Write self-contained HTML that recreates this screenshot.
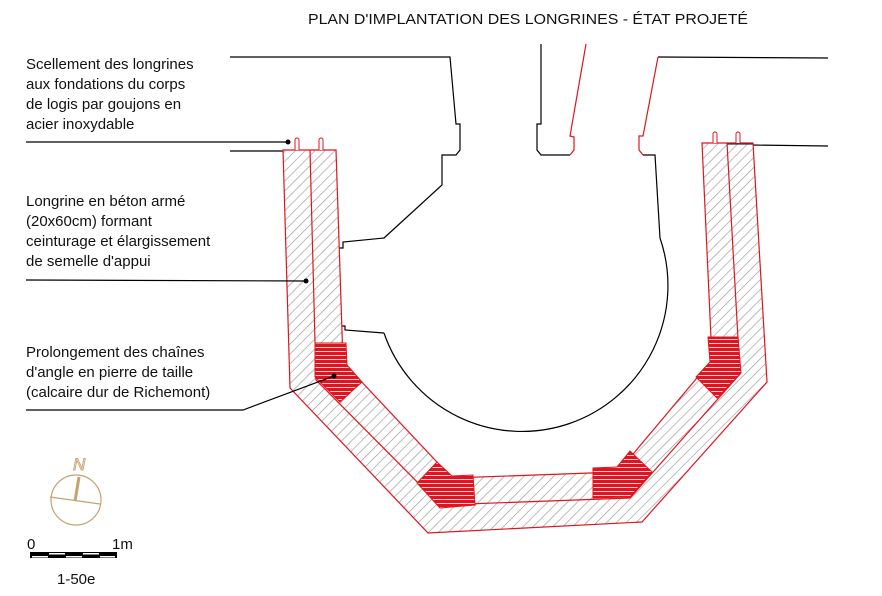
<!DOCTYPE html>
<html><head><meta charset="utf-8"><style>
html,body{margin:0;padding:0;background:#fff;width:882px;height:596px;overflow:hidden}
svg{display:block}
text{font-family:"Liberation Sans",sans-serif;fill:#111}
</style></head><body>
<svg width="882" height="596" viewBox="0 0 882 596" xmlns="http://www.w3.org/2000/svg">
<defs>
<pattern id="h" patternUnits="userSpaceOnUse" width="7" height="7" patternTransform="rotate(45)">
<rect width="7" height="7" fill="#fff"/><line x1="0" y1="0" x2="0" y2="7" stroke="#999" stroke-width="1.3"/>
</pattern>
<pattern id="r" patternUnits="userSpaceOnUse" width="8" height="4">
<rect width="8" height="4" fill="#e0141e"/><line x1="0" y1="3.5" x2="8" y2="3.5" stroke="#fff" stroke-width="0.8"/>
</pattern>
</defs>
<text x="308" y="24" font-size="15" textLength="440" lengthAdjust="spacingAndGlyphs">PLAN D'IMPLANTATION DES LONGRINES - ÉTAT PROJETÉ</text>

<g font-size="15">
<text x="26" y="69">Scellement des longrines</text>
<text x="26" y="89">aux fondations du corps</text>
<text x="26" y="109">de logis par goujons en</text>
<text x="26" y="129">acier inoxydable</text>
<text x="26" y="206">Longrine en béton armé</text>
<text x="26" y="226">(20x60cm) formant</text>
<text x="26" y="246">ceinturage et élargissement</text>
<text x="26" y="266">de semelle d'appui</text>
<text x="26" y="357">Prolongement des chaînes</text>
<text x="26" y="377">d'angle en pierre de taille</text>
<text x="26" y="397">(calcaire dur de Richemont)</text>
</g>

<!-- building outlines -->
<g fill="none" stroke="#000" stroke-width="1.2">
<polyline points="230,57 450,57 456,124 460,124 460,150 456,155 442,155 442,185 384,238 343,242 343,248 316,248 313,245"/>
<polyline points="316,326 345,326 345,330 384,333"/>
<path d="M384,333 A145,145 0 1 0 660,238 L655,155 643,155"/>
<polyline points="541,44 541,124 537,124 537,150 541,155 570,155"/>
<line x1="658" y1="57" x2="828" y2="58"/>
<line x1="750" y1="145" x2="828" y2="146"/>
<line x1="230" y1="151" x2="283" y2="151"/>
</g>
<g fill="none" stroke="#e0141e" stroke-width="1.2">
<polyline points="570,155 574,150 574,137 570,136 586,44"/>
<polyline points="658,57 643,136 639,136 639,150 643,155"/>
</g>

<!-- longrine bands -->
<polygon points="283,150 290,388 428,533 642,522 767,382 753,143 702,143 712,360 618,472 452,478 343,362 336,150" fill="url(#h)" stroke="#e0141e" stroke-width="1.2"/>
<polyline points="310,150 316,380 440,505 630,498 740,374 727,143" fill="none" stroke="#e0141e" stroke-width="1.2"/>

<!-- red corner blocks -->
<g fill="url(#r)" stroke="#e0141e" stroke-width="1">
<polygon points="315,343 346,343 347,365 362,382 340,402 315,377"/>
<polygon points="437,462 452,476 473,475 475,505 440,508 417,483"/>
<polygon points="593,468 617,467 630,451 652,472 630,497 593,498"/>
<polygon points="708,337 738,337 741,373 717,398 696,377 710,362"/>
</g>

<!-- studs -->
<g fill="#fff" stroke="#e0141e" stroke-width="1">
<path d="M295,150 V140 a2,2 0 0 1 4,0 V150"/>
<path d="M319,150 V140 a2,2 0 0 1 4,0 V150"/>
<path d="M713,143 V134 a2,2 0 0 1 4,0 V143"/>
<path d="M736,143 V134 a2,2 0 0 1 4,0 V143"/>
</g>
<line x1="727" y1="144" x2="753" y2="144" stroke="#333" stroke-width="1.2"/>

<!-- leaders -->
<g stroke="#000" stroke-width="1.2" fill="none">
<line x1="26" y1="142" x2="288" y2="142"/>
<line x1="26" y1="280" x2="306" y2="281"/>
<polyline points="26,410 243,410 334,376"/>
</g>
<g fill="#000"><circle cx="288" cy="142" r="2.5"/><circle cx="306" cy="281" r="2.5"/><circle cx="334" cy="376" r="2.5"/></g>

<!-- compass -->
<g stroke="#c8a070" fill="none">
<circle cx="76" cy="500" r="25" stroke-width="1.2"/>
<line x1="50" y1="497" x2="100" y2="504" stroke-width="1.2"/>
<line x1="75" y1="501" x2="79" y2="477" stroke-width="3"/>
</g>
<text x="73" y="470" font-size="17" font-style="italic" stroke="#c8a070" stroke-width="0.9" style="fill:#fff">N</text>

<!-- scale -->
<text x="27" y="549" font-size="15">0</text>
<text x="112" y="549" font-size="15">1m</text>
<rect x="30" y="552" width="87" height="6" fill="#000"/>
<g fill="#fff"><rect x="32" y="556" width="16" height="1.5"/><rect x="66" y="556" width="16" height="1.5"/><rect x="100" y="556" width="15" height="1.5"/>
<rect x="49" y="553" width="16" height="1.5"/><rect x="83" y="553" width="16" height="1.5"/></g>
<text x="57" y="584" font-size="15">1-50e</text>
</svg>
</body></html>
